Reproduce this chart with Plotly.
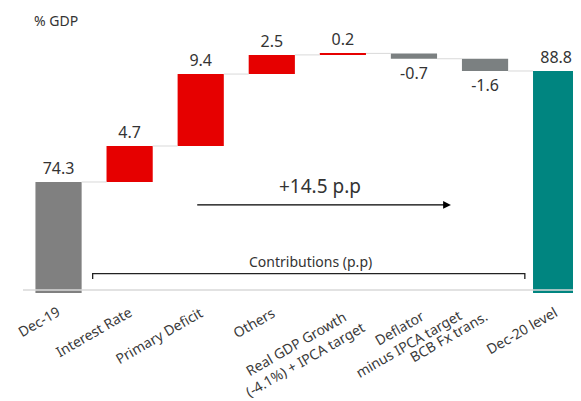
import plotly.graph_objects as go

categories = ["Dec-19", "Interest Rate", "Primary Deficit", "Others",
              "Real GDP Growth<br>(-4.1%) + IPCA target",
              "Deflator<br>minus IPCA target", "BCB Fx trans.", "Dec-20 level"]
start_level = 74.3
contributions = [4.7, 9.4, 2.5, 0.2, -0.7, -1.6]
end_level = 88.8
value_labels = ["74.3", "4.7", "9.4", "2.5", "0.2", "-0.7", "-1.6", "88.8"]

AXIS_MIN = 59.8
Y_MAX = 95.46
RED = "#E60000"
GRAY = "#808080"
NEG_GRAY = "#7B8081"
TEAL = "#008580"
TXT = "#333333"
FONT = "Noto Sans"
W = 0.65
# pixel offsets of each rotated category label's centre from its tick (layout only)
LABEL_DX = [-20, -36, -42, -18, -43, -10, -37, -35]
LABEL_DY = [-28, -38, -42, -29, -58, -42, -43, -37]

# bases and heights
bases, heights, colors = [], [], []
bases.append(AXIS_MIN); heights.append(start_level - AXIS_MIN); colors.append(GRAY)
level = start_level
levels = [start_level]
for c in contributions:
    bases.append(level); heights.append(c)
    colors.append(RED if c > 0 else NEG_GRAY)
    level += c
    levels.append(level)
bases.append(AXIS_MIN); heights.append(end_level - AXIS_MIN); colors.append(TEAL)
levels.append(end_level)

x = list(range(len(categories)))
fig = go.Figure()
fig.add_trace(go.Bar(
    x=x, y=heights, base=bases, width=W,
    marker=dict(color=colors, line=dict(width=0)),
    text=value_labels, textposition="outside", constraintext="none",
    cliponaxis=False,
    textfont=dict(family=FONT, size=16, color=TXT),
    hoverinfo="skip",
))

shapes = []
# connectors
for i in range(len(categories) - 1):
    lv = levels[i]
    shapes.append(dict(type="line", xref="x", yref="y",
                       x0=i + W / 2, x1=i + 1 - W / 2, y0=lv, y1=lv,
                       line=dict(color="#d9d9d9", width=1)))
# axis baseline
shapes.append(dict(type="line", xref="x", yref="y", x0=-0.5, x1=7.35,
                   y0=60.19, y1=60.19, line=dict(color="#d9d9d9", width=1.5)))
# bracket
shapes.append(dict(type="path", xref="x", yref="y",
                   path="M 0.48 61.63 L 0.48 62.32 L 6.56 62.32 L 6.56 61.63",
                   line=dict(color="#222222", width=1.3)))

annotations = [
    dict(text="% GDP", xref="paper", yref="paper", x=0.016, y=1.0,
         xanchor="left", yanchor="middle", showarrow=False,
         font=dict(family=FONT, size=14, color=TXT)),
    dict(text="+14.5 p.p", xref="x", yref="y", x=3.68, y=73.78,
         showarrow=False, font=dict(family=FONT, size=19, color=TXT)),
    dict(text="", xref="x", yref="y", axref="x", ayref="y",
         x=5.52, y=71.3, ax=1.93, ay=71.3, showarrow=True,
         arrowhead=2, arrowsize=1.3, arrowwidth=1.2, arrowcolor="#000000"),
    dict(text="Contributions (p.p)", xref="x", yref="y", x=3.54, y=63.98,
         showarrow=False, font=dict(family=FONT, size=14, color=TXT)),
]
# category labels (rotated, centred lines)
for i, lab in enumerate(categories):
    annotations.append(dict(
        text=lab, xref="x", yref="paper", x=i, y=0,
        xshift=LABEL_DX[i], yshift=LABEL_DY[i],
        xanchor="center", yanchor="middle", textangle=-30,
        align="center", showarrow=False, borderpad=0,
        font=dict(family=FONT, size=14, color="#3a3a3a")))

fig.update_layout(
    width=573, height=393,
    margin=dict(l=15, r=0, t=12, b=108),
    plot_bgcolor="white", paper_bgcolor="white",
    showlegend=False, bargap=0.35,
    shapes=shapes, annotations=annotations,
    xaxis=dict(range=[-0.5, 7.35], showticklabels=False, showgrid=False,
               showline=False, zeroline=False, ticks="", automargin=False),
    yaxis=dict(range=[AXIS_MIN, Y_MAX], visible=False, showgrid=False,
               zeroline=False, automargin=False),
)

fig.write_html("out.html")
